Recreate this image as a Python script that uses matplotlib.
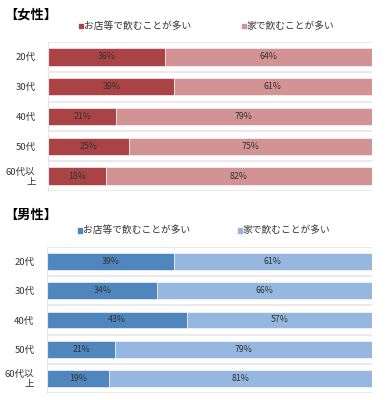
import matplotlib
matplotlib.use("Agg")
import matplotlib.pyplot as plt
from matplotlib.patches import Rectangle

plt.rcParams['font.family'] = ['Noto Sans CJK JP', 'DejaVu Sans']

# data
ages = ['20代', '30代', '40代', '50代', '60代以\n上']
series_names = ['お店等で飲むことが多い', '家で飲むことが多い']
female_out = [36, 39, 21, 25, 18]
female_home = [64, 61, 79, 75, 82]
male_out = [39, 34, 43, 21, 19]
male_home = [61, 66, 57, 79, 81]

red_cols = ['#a94345', '#d39293']
blue_cols = ['#4f86be', '#96b8e0']

fig = plt.figure(figsize=(3.85, 4.0), dpi=100)


def draw_panel(rect, out_vals, home_vals, cols, title, title_y, legend_y, sq_x):
    ax = fig.add_axes(rect)
    y = list(range(len(ages)))
    ax.barh(y, out_vals, height=0.58, color=cols[0], edgecolor='white', linewidth=0.4)
    ax.barh(y, home_vals, left=out_vals, height=0.58, color=cols[1],
            edgecolor='white', linewidth=0.4)
    for i in y:
        ax.text(out_vals[i] / 2, i, f'{out_vals[i]}%', ha='center', va='center',
                fontsize=6.3, color='#333333')
        ax.text(out_vals[i] + home_vals[i] / 2, i, f'{home_vals[i]}%', ha='center',
                va='center', fontsize=6.3, color='#333333')
    ax.set_xlim(0, 100)
    ax.set_ylim(len(ages) - 0.5, -0.5)
    ax.set_yticks(y)
    ax.set_yticklabels(ages, fontsize=6.8, color='#333333', linespacing=1.1)
    ax.set_yticks([i - 0.5 for i in range(len(ages) + 1)], minor=True)
    ax.grid(True, which='minor', axis='y', color='#e6e6e6', linewidth=1.2)
    ax.tick_params(axis='y', which='both', length=0, pad=9)
    ax.set_xticks([])
    for s in ['top', 'right', 'bottom']:
        ax.spines[s].set_visible(False)
    ax.spines['left'].set_color('#e6e6e6')
    ax.set_axisbelow(True)

    fig.text(0.012, title_y, title, fontsize=9.5, fontweight='bold', va='center')
    for k, name in enumerate(series_names):
        x0 = sq_x[k]
        fig.patches.append(Rectangle((x0, legend_y - 0.006), 0.011, 0.011,
                                     transform=fig.transFigure, color=cols[k]))
        fig.text(x0 + 0.013, legend_y, name, fontsize=7, va='center', color='#333333')
    return ax


draw_panel([0.125, 0.5225, 0.84, 0.3725], female_out, female_home, red_cols,
           '【女性】', 0.963, 0.935, [0.205, 0.628])
draw_panel([0.122, 0.0175, 0.844, 0.365], male_out, male_home, blue_cols,
           '【男性】', 0.463, 0.424, [0.202, 0.618])

fig.savefig('out.png', dpi=100)
